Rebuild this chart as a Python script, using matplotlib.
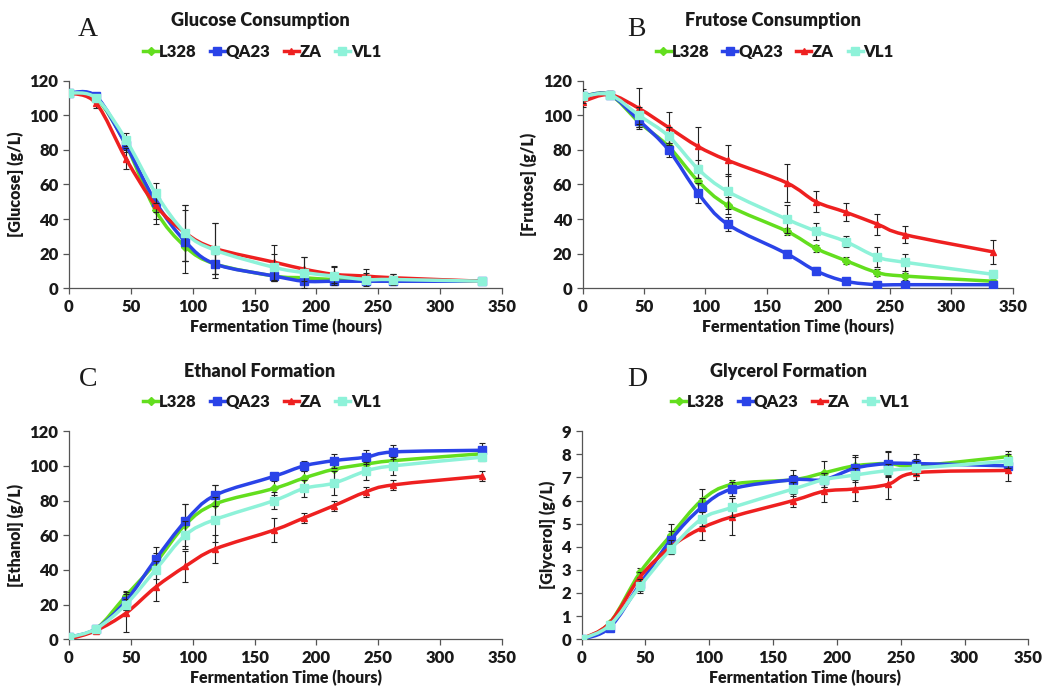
import numpy as np
import matplotlib
matplotlib.use("Agg")
import matplotlib.pyplot as plt
from matplotlib.path import Path
from matplotlib.patches import PathPatch
from matplotlib.lines import Line2D

plt.rcParams['font.family'] = ['Lato', 'DejaVu Sans']
plt.rcParams['font.weight'] = 'bold'

hours = [0, 22, 46, 70, 94, 118, 166, 190, 214, 240, 262, 334]
strains = ['L328', 'QA23', 'ZA', 'VL1']

# glucose (g/L)
glu_L328 = [113, 110, 83, 45, 24, 14, 7, 6, 5, 5, 5, 4]
glu_QA23 = [113, 111, 83, 50, 27, 14, 7, 4, 4, 4, 4, 4]
glu_ZA = [113, 107, 75, 48, 32, 23, 15, 11, 8, 7, 6, 4]
glu_VL1 = [113, 110, 86, 55, 32, 22, 12, 9, 7, 5, 5, 4]
glu_err_L328 = [1, 2, 4, 8, 8, 6, 3, 2, 1, 1, 1, 1]
glu_err_QA23 = [1, 1, 3, 6, 18, 6, 3, 2, 1, 1, 1, 1]
glu_err_ZA = [1, 3, 6, 8, 16, 15, 10, 7, 5, 4, 2, 1]
glu_err_VL1 = [1, 2, 4, 6, 16, 16, 8, 9, 5, 4, 3, 1]

# fructose (g/L)
fru_L328 = [111, 112, 96, 82, 62, 48, 33, 23, 16, 9, 7, 4]
fru_QA23 = [111, 112, 97, 80, 55, 37, 20, 10, 4, 2, 2, 2]
fru_ZA = [108, 112, 104, 93, 82, 74, 61, 50, 44, 37, 31, 21]
fru_VL1 = [111, 112, 100, 88, 69, 56, 40, 33, 27, 18, 15, 8]
fru_err_L328 = [2, 2, 3, 4, 6, 5, 2, 2, 2, 2, 2, 1]
fru_err_QA23 = [2, 2, 4, 4, 6, 4, 2, 2, 1, 1, 1, 1]
fru_err_ZA = [3, 2, 12, 9, 11, 9, 11, 6, 5, 6, 5, 7]
fru_err_VL1 = [4, 2, 5, 5, 5, 10, 8, 5, 3, 6, 5, 2]

# ethanol (g/L)
eth_L328 = [1, 6, 25, 44, 66, 78, 87, 93, 98, 101, 103, 107]
eth_QA23 = [1, 6, 22, 46, 68, 83, 94, 100, 103, 105, 108, 109]
eth_ZA = [0, 5, 15, 30, 42, 52, 63, 70, 77, 85, 89, 94]
eth_VL1 = [1, 6, 20, 40, 60, 69, 80, 87, 90, 97, 100, 105]
eth_err_L328 = [1, 1, 3, 6, 12, 11, 4, 4, 6, 4, 4, 3]
eth_err_QA23 = [1, 1, 5, 7, 10, 6, 2, 3, 4, 4, 4, 4]
eth_err_ZA = [1, 1, 11, 8, 9, 8, 7, 3, 3, 3, 3, 3]
eth_err_VL1 = [1, 1, 3, 5, 8, 13, 5, 5, 7, 5, 5, 2]

# glycerol (g/L)
gly_L328 = [0, 0.7, 2.9, 4.5, 6.0, 6.7, 6.9, 7.2, 7.5, 7.6, 7.5, 7.9]
gly_QA23 = [0, 0.5, 2.4, 4.3, 5.7, 6.5, 6.9, 6.9, 7.4, 7.6, 7.6, 7.5]
gly_ZA = [0, 0.7, 2.7, 4.0, 4.8, 5.3, 6.0, 6.4, 6.5, 6.7, 7.2, 7.3]
gly_VL1 = [0, 0.6, 2.3, 3.9, 5.2, 5.7, 6.5, 6.9, 7.1, 7.3, 7.4, 7.7]
gly_err_L328 = [0.05, 0.1, 0.2, 0.5, 0.5, 0.2, 0.2, 0.5, 0.45, 0.55, 0.3, 0.25]
gly_err_QA23 = [0.05, 0.1, 0.3, 0.4, 0.4, 0.3, 0.4, 0.3, 0.5, 0.5, 0.4, 0.2]
gly_err_ZA = [0.05, 0.1, 0.2, 0.3, 0.5, 0.8, 0.3, 0.45, 0.5, 0.65, 0.3, 0.45]
gly_err_VL1 = [0.05, 0.1, 0.3, 0.2, 0.3, 0.4, 0.3, 0.3, 0.3, 0.3, 0.3, 0.3]

colors = {'L328': '#63de1e', 'QA23': '#2a43e8', 'ZA': '#ee2020', 'VL1': '#8ef2d9'}
markers = {'L328': 'D', 'QA23': 's', 'ZA': '^', 'VL1': 's'}
msizes = {'L328': 4, 'QA23': 6, 'ZA': 5, 'VL1': 6}


def smooth_path(x, y):
    # cubic bezier through every point, like a spreadsheet "smoothed line"
    pts = np.column_stack([x, y]).astype(float)
    n = len(pts)
    verts = [pts[0]]
    codes = [Path.MOVETO]
    for i in range(n - 1):
        p0 = pts[max(i - 1, 0)]
        p1 = pts[i]
        p2 = pts[i + 1]
        p3 = pts[min(i + 2, n - 1)]
        verts += [p1 + (p2 - p0) / 6, p2 - (p3 - p1) / 6, p2]
        codes += [Path.CURVE4] * 3
    return Path(verts, codes)


panels = [
    ('A', 'Glucose Consumption', '[Glucose] (g/L)',
     [glu_L328, glu_QA23, glu_ZA, glu_VL1],
     [glu_err_L328, glu_err_QA23, glu_err_ZA, glu_err_VL1],
     [0.066, 0.583, 0.415, 0.300], 120, 20, 0.249, 0.084),
    ('B', 'Frutose Consumption', '[Frutose] (g/L)',
     [fru_L328, fru_QA23, fru_ZA, fru_VL1],
     [fru_err_L328, fru_err_QA23, fru_err_ZA, fru_err_VL1],
     [0.558, 0.583, 0.412, 0.300], 120, 20, 0.740, 0.610),
    ('C', 'Ethanol Formation', '[Ethanol] (g/L)',
     [eth_L328, eth_QA23, eth_ZA, eth_VL1],
     [eth_err_L328, eth_err_QA23, eth_err_ZA, eth_err_VL1],
     [0.066, 0.075, 0.415, 0.301], 120, 20, 0.249, 0.084),
    ('D', 'Glycerol Formation', '[Glycerol] (g/L)',
     [gly_L328, gly_QA23, gly_ZA, gly_VL1],
     [gly_err_L328, gly_err_QA23, gly_err_ZA, gly_err_VL1],
     [0.557, 0.075, 0.428, 0.301], 9, 1, 0.755, 0.610),
]

fig = plt.figure(figsize=(10.44, 6.91), dpi=100)

for i, (letter, title, ylabel, series, errs, rect, ymax, ystep, tx, lx) in enumerate(panels):
    ax = fig.add_axes(rect)
    for k, name in enumerate(strains):
        c = colors[name]
        ax.errorbar(hours, series[k], yerr=errs[k], fmt='none', ecolor='#222222',
                    elinewidth=0.8, capsize=2, capthick=0.8, zorder=2 + k)
        ax.add_patch(PathPatch(smooth_path(hours, series[k]), fc='none', ec=c,
                               lw=2.5, zorder=3 + k))
        ax.plot(hours, series[k], ls='none', marker=markers[name],
                ms=msizes[name], color=c, zorder=3 + k)
    ax.set_xlim(0, 350)
    ax.set_ylim(0, ymax)
    ax.set_xticks(range(0, 351, 50))
    ax.set_yticks(np.arange(0, ymax + ystep / 2, ystep))
    for s in ['top', 'right']:
        ax.spines[s].set_visible(False)
    for s in ['left', 'bottom']:
        ax.spines[s].set_color('#555555')
        ax.spines[s].set_linewidth(0.9)
    ax.tick_params(direction='out', length=4, width=0.9, color='#555555',
                   labelsize=12, labelcolor='#1a1a1a')
    for lab in ax.get_xticklabels() + ax.get_yticklabels():
        lab.set_fontweight('heavy')
    ax.set_xlabel('Fermentation Time (hours)', fontsize=11.5, fontweight='heavy',
                  color='#1a1a1a', labelpad=3)
    ax.set_ylabel(ylabel, fontsize=11.5, fontweight='heavy', color='#1a1a1a',
                  labelpad=4)

    top = rect[1] + rect[3]
    fig.text(tx, top + 0.087, title, ha='center', va='center', fontsize=13,
             fontweight='heavy', color='#1a1a1a')
    fig.text(lx, top + 0.075, letter, ha='center', va='center', fontsize=20,
             family=['Liberation Serif', 'DejaVu Serif'], fontweight='normal',
             color='#1a1a1a')

    handles = [Line2D([], [], color=colors[n], lw=2.5, marker=markers[n],
                      ms=msizes[n]) for n in strains]
    leg = fig.legend(handles, strains, loc='center', ncol=4, frameon=False,
                     bbox_to_anchor=(tx + 0.002, top + 0.042), fontsize=12,
                     handlelength=0.9, handletextpad=0.05, columnspacing=0.8)
    for t in leg.get_texts():
        t.set_fontweight('heavy')
        t.set_color('#1a1a1a')

fig.savefig('out.png', dpi=100)
